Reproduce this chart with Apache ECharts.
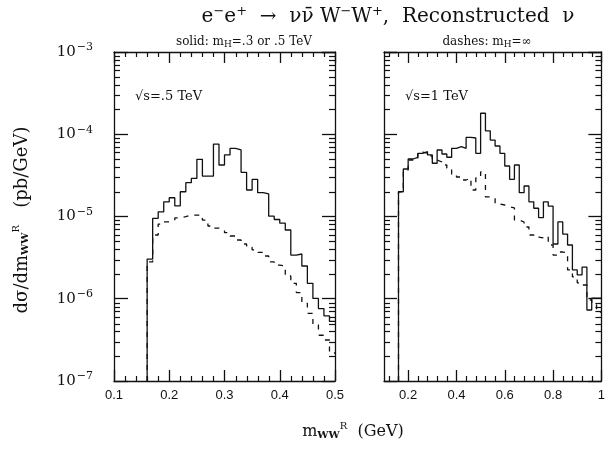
<!DOCTYPE html>
<html><head><meta charset="utf-8">
<script src="https://cdn.jsdelivr.net/npm/echarts@6/dist/echarts.min.js"></script>
<style>html,body{margin:0;padding:0;background:#fff}#c{width:608px;height:462px}</style>
</head><body><div id="c"></div>
<script>
// ---- data ----
const leftEdges = [0.16,0.17,0.18,0.19,0.20,0.21,0.22,0.23,0.24,0.25,0.26,0.27,0.28,0.29,0.30,0.31,0.32,0.33,0.34,0.35,0.36,0.37,0.38,0.39,0.40,0.41,0.42,0.43,0.44,0.45,0.46,0.47,0.48,0.49,0.50];
const leftSolid = [3.04e-6,9.5e-6,1.14e-5,1.51e-5,1.69e-5,1.35e-5,2.0e-5,2.58e-5,2.91e-5,4.96e-5,
  3.1e-5,3.1e-5,7.6e-5,4.23e-5,5.6e-5,6.75e-5,6.44e-5,3.44e-5,2.1e-5,2.83e-5,
  1.95e-5,1.88e-5,1.01e-5,9.2e-6,8.3e-6,6.85e-6,3.4e-6,3.5e-6,2.5e-6,1.54e-6,
  1.01e-6,7.6e-7,6.2e-7,5.3e-7];
const leftDashed = [2.8e-6,5.96e-6,8.1e-6,8.6e-6,9.06e-6,9.6e-6,9.95e-6,1.04e-5,1.04e-5,1.04e-5,
  9.06e-6,7.66e-6,7.24e-6,6.85e-6,6.35e-6,5.79e-6,5.18e-6,4.63e-6,4.22e-6,3.92e-6,
  3.67e-6,3.31e-6,2.8e-6,2.57e-6,2.5e-6,1.89e-6,1.54e-6,1.19e-6,8.8e-7,6.65e-7,
  4.8e-7,3.6e-7,3.15e-7,2.19e-7];
const rightEdges = [0.16,0.18,0.20,0.22,0.24,0.26,0.28,0.30,0.32,0.34,0.36,0.38,0.40,0.42,0.44,0.46,0.48,0.50,0.52,0.54,0.56,0.58,0.60,0.62,0.64,0.66,0.68,0.70,0.72,0.74,0.76,0.78,0.80,0.82,0.84,0.86,0.88,0.90,0.92,0.94,0.96,0.98,1.00];
const rightSolid = [2.0e-5,3.78e-5,5.0e-5,5.25e-5,5.87e-5,6.14e-5,5.6e-5,4.44e-5,6.43e-5,5.75e-5,
  5.25e-5,6.75e-5,7.06e-5,6.75e-5,9.18e-5,9.0e-5,5.87e-5,1.8e-4,1.1e-4,8.5e-5,
  7.2e-5,5.87e-5,4.11e-5,2.83e-5,4.23e-5,1.95e-5,2.35e-5,1.51e-5,1.26e-5,9.7e-6,
  1.51e-5,1.34e-5,4.63e-6,8.6e-6,6.12e-6,4.5e-6,2.24e-6,1.95e-6,2.43e-6,7.3e-7,
  1.02e-6,1.02e-6];
const rightDashed = [2.0e-5,3.67e-5,4.86e-5,5.14e-5,6.08e-5,5.91e-5,5.44e-5,4.86e-5,4.6e-5,4.23e-5,
  3.89e-5,3.2e-5,3.02e-5,2.78e-5,2.94e-5,2.1e-5,2.94e-5,3.48e-5,1.73e-5,1.68e-5,
  1.42e-5,1.38e-5,1.31e-5,1.27e-5,9.06e-6,8.57e-6,7.45e-6,5.96e-6,5.63e-6,5.48e-6,
  5.79e-6,4.5e-6,3.4e-6,3.7e-6,3.6e-6,2.24e-6,1.84e-6,1.56e-6,1.47e-6,9.66e-7,
  8.4e-7,6.9e-7];
const leftXTicks = [0.1,0.2,0.3,0.4,0.5];
const leftXMinor = [0.12,0.14,0.16,0.18,0.22,0.24,0.26,0.28,0.32,0.34,0.36,0.38,0.42,0.44,0.46,0.48];
const rightXTicks = [0.2,0.4,0.6,0.8,1.0];
const rightXMinor = [0.12,0.16,0.24,0.28,0.32,0.36,0.44,0.48,0.52,0.56,0.64,0.68,0.72,0.76,0.84,0.88,0.92,0.96];
const yMin = 1e-7, yMax = 1e-3;
const yMinor = [2e-7,3e-7,4e-7,5e-7,6e-7,7e-7,8e-7,9e-7,2e-6,3e-6,4e-6,5e-6,6e-6,7e-6,8e-6,9e-6,
  2e-5,3e-5,4e-5,5e-5,6e-5,7e-5,8e-5,9e-5,2e-4,3e-4,4e-4,5e-4,6e-4,7e-4,8e-4,9e-4];

// ---- chart ----
const INK = '#111';
const SERIF = '"DejaVu Serif", "Liberation Serif", serif';
const SANS = '"Liberation Sans", "DejaVu Sans", sans-serif';
function hist(edges, vals) {
  const pts = [[edges[0], yMin]];
  for (let i = 0; i < vals.length; i++) pts.push([edges[i], vals[i]]);
  pts.push([edges[edges.length - 1], vals[vals.length - 1]]);
  return pts;
}
function xMinor(xi, yi, vals) {
  return { type: 'custom', xAxisIndex: xi, yAxisIndex: yi, silent: true, clip: false, z: 5,
    data: vals.map(v => [v, 1e-5]),
    renderItem(params, api) {
      const p = api.coord([api.value(0), api.value(1)]);
      const cs = params.coordSys, x = Math.round(p[0]) + 0.5;
      const b = cs.y + cs.height;
      return { type: 'group', children: [
        { type: 'line', shape: { x1: x, y1: b, x2: x, y2: b - 5 }, style: { stroke: INK, lineWidth: 1.2 } },
        { type: 'line', shape: { x1: x, y1: cs.y, x2: x, y2: cs.y + 5 }, style: { stroke: INK, lineWidth: 1.2 } }
      ] };
    } };
}
function yMinorS(xi, yi, xref) {
  return { type: 'custom', xAxisIndex: xi, yAxisIndex: yi, silent: true, clip: false, z: 5,
    data: yMinor.map(v => [xref, v]),
    renderItem(params, api) {
      const p = api.coord([api.value(0), api.value(1)]);
      const cs = params.coordSys, y = Math.round(p[1]) + 0.5;
      const r = cs.x + cs.width;
      return { type: 'group', children: [
        { type: 'line', shape: { x1: cs.x, y1: y, x2: cs.x + 6, y2: y }, style: { stroke: INK, lineWidth: 1.2 } },
        { type: 'line', shape: { x1: r, y1: y, x2: r - 6, y2: y }, style: { stroke: INK, lineWidth: 1.2 } }
      ] };
    } };
}
function xAx(grid, pos, min, max, ticks, showLabel) {
  return { type: 'value', gridIndex: grid, position: pos, min, max,
    axisLine: { show: true, onZero: false, lineStyle: { color: INK, width: 1.3 } },
    axisTick: { show: true, inside: true, length: 11, customValues: ticks, lineStyle: { color: INK, width: 1.3 } },
    axisLabel: { show: showLabel, customValues: ticks, margin: 8, color: INK, fontFamily: SANS, fontSize: 13,
      formatter: v => (Math.abs(v - 1) < 1e-9 ? '1' : v.toFixed(1)) },
    splitLine: { show: false } };
}
function yAx(grid, pos, showLabel, tickLen) {
  return { type: 'log', logBase: 10, gridIndex: grid, position: pos, min: yMin, max: yMax,
    axisLine: { show: true, onZero: false, lineStyle: { color: INK, width: 1.3 } },
    axisTick: { show: true, inside: true, length: tickLen, lineStyle: { color: INK, width: 1.3 } },
    axisLabel: { show: showLabel, margin: 21, color: INK, fontFamily: SERIF,
      formatter: v => '{b|10}{s|−' + Math.abs(Math.round(Math.log10(v))) + '}',
      rich: { b: { fontSize: 15, fontFamily: SERIF, color: INK }, s: { fontSize: 11, fontFamily: SERIF, color: INK, padding: [0, 0, 9, 1] } } },
    splitLine: { show: false } };
}
const lineS = (xi, yi, data, dashed) => ({ type: 'line', xAxisIndex: xi, yAxisIndex: yi, step: 'end', symbol: 'none',
  data, animation: false, clip: true,
  lineStyle: { color: INK, width: 1.3, type: dashed ? [5, 6] : 'solid' } });

const subRich = {
  sub: { fontSize: 9, fontFamily: SERIF, color: INK, padding: [6, 0, 0, 0] }
};
const nameRich = {
  sb: { fontSize: 10, fontWeight: 'bold', fontFamily: SERIF, color: INK, padding: [7, 0, 0, 0] },
  sp: { fontSize: 10, fontFamily: SERIF, color: INK, padding: [0, 0, 12, 0] }
};
const option = {
  animation: false,
  grid: [ { left: 114, top: 52, width: 221, height: 329 }, { left: 384, top: 52, width: 222, height: 329 } ],
  xAxis: [ xAx(0, 'bottom', 0.1, 0.5, leftXTicks, true), xAx(0, 'top', 0.1, 0.5, leftXTicks, false),
           xAx(1, 'bottom', 0.1, 1.0, rightXTicks, true), xAx(1, 'top', 0.1, 1.0, rightXTicks, false) ],
  yAxis: [ yAx(0, 'left', true, 14), yAx(0, 'right', false, 13), yAx(1, 'left', false, 13), yAx(1, 'right', false, 13) ],
  series: [
    lineS(0, 0, hist(leftEdges, leftSolid), false),
    lineS(0, 0, hist(leftEdges, leftDashed), true),
    lineS(2, 2, hist(rightEdges, rightSolid), false),
    lineS(2, 2, hist(rightEdges, rightDashed), true),
    xMinor(0, 0, leftXMinor), xMinor(2, 2, rightXMinor),
    yMinorS(0, 0, 0.3), yMinorS(2, 2, 0.5)
  ],
  graphic: [
    { type: 'text', style: { x: 388, y: 17, align: 'center', verticalAlign: 'middle',
      text: 'e{s|−}e{s|+}  →  νν̄ W{s|−}W{s|+},  Reconstructed  ν',
      font: '20px ' + SERIF, fill: INK,
      rich: { s: { fontSize: 13, fontFamily: SERIF, color: INK, padding: [0, 0, 10, 0] } } } },
    { type: 'text', style: { x: 244, y: 42, align: 'center', verticalAlign: 'middle',
      text: 'solid: m{sub|H}=.3 or .5 TeV', font: '12px ' + SERIF, fill: INK, rich: subRich } },
    { type: 'text', style: { x: 487, y: 42, align: 'center', verticalAlign: 'middle',
      text: 'dashes: m{sub|H}=∞', font: '12px ' + SERIF, fill: INK, rich: subRich } },
    { type: 'text', style: { x: 135, y: 97, align: 'left', verticalAlign: 'middle',
      text: '√s=.5 TeV', font: '13px ' + SERIF, fill: INK } },
    { type: 'text', style: { x: 405, y: 97, align: 'left', verticalAlign: 'middle',
      text: '√s=1 TeV', font: '13px ' + SERIF, fill: INK } },
    { type: 'text', x: 22, y: 220, rotation: Math.PI / 2, style: { x: 0, y: 0, align: 'center', verticalAlign: 'middle',
      text: 'dσ/dm{sb|WW}{sp|R}   (pb/GeV)', font: '18px ' + SERIF, fill: INK, rich: nameRich } },
    { type: 'text', style: { x: 353, y: 432, align: 'center', verticalAlign: 'middle',
      text: 'm{sb|WW}{sp|R}  (GeV)', font: '16px ' + SERIF, fill: INK, rich: nameRich } }
  ]
};
const chart = echarts.init(document.getElementById('c'), null, { renderer: 'canvas' });
chart.setOption(option);
</script></body></html>
